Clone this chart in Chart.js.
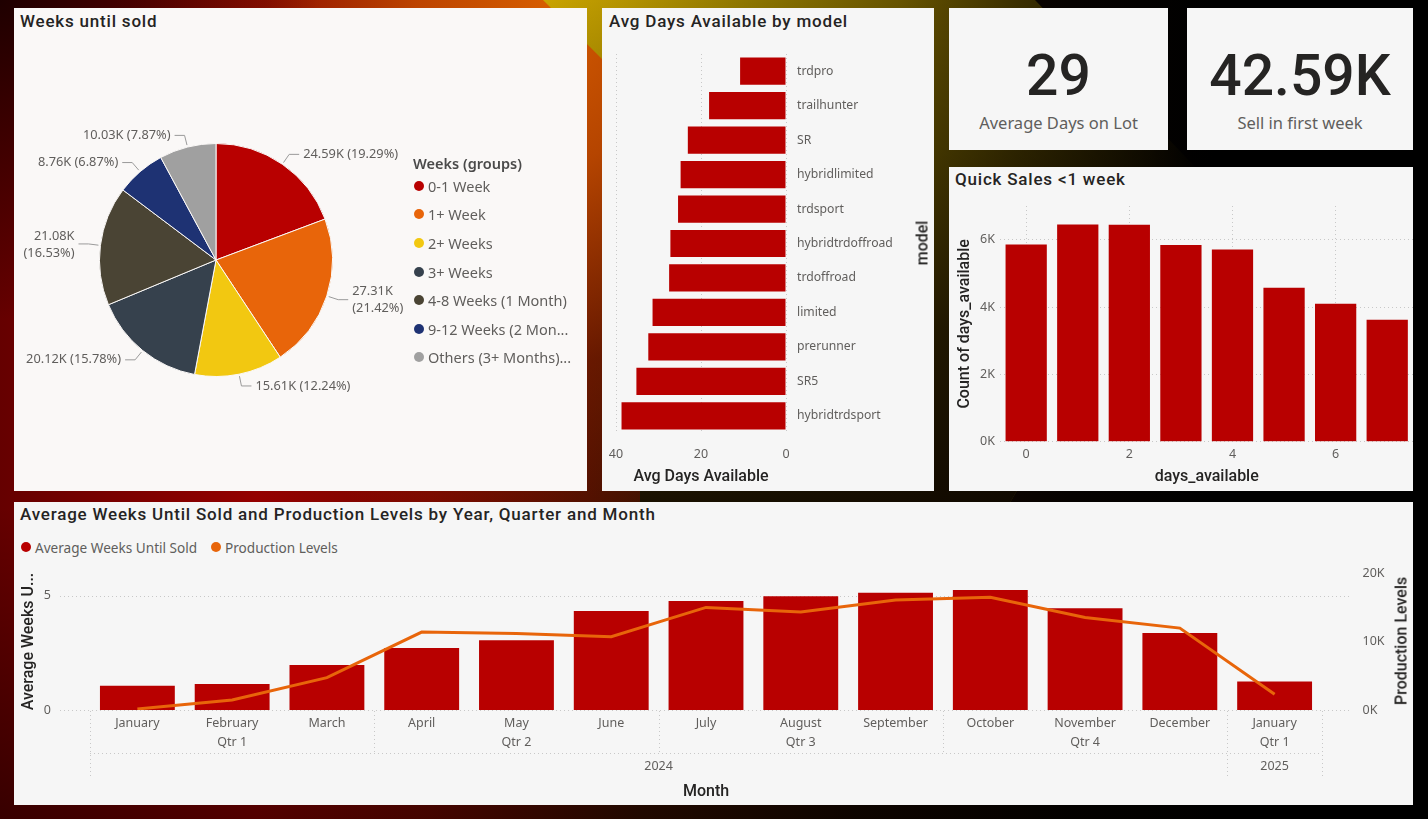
<!DOCTYPE html>
<html>
<head>
<meta charset="utf-8">
<script src="https://cdn.jsdelivr.net/npm/chart.js@4.4.1/dist/chart.umd.min.js"></script>
<style>
html,body{margin:0;padding:0;width:1428px;height:819px;overflow:hidden;background:#000;font-family:'Noto Sans',sans-serif;}
#bg{position:absolute;left:0;top:0;width:1428px;height:819px;
 background:
  linear-gradient(to bottom, rgba(0,0,0,0) 62%, rgba(0,0,0,0.45) 100%),
  radial-gradient(circle 320px at 0px 0px, rgba(25,0,0,0.92) 0%, rgba(25,0,0,0) 100%),
  radial-gradient(ellipse 430px 560px at 545px 0px, rgba(214,92,0,1) 0%, rgba(200,78,0,0.85) 30%, rgba(150,40,0,0.4) 65%, rgba(120,20,0,0) 100%),
  linear-gradient(to right, #650000 0%, #940000 18%, #7a0800 30%, #3a1000 45%, #180800 60%, #060200 75%, #000 85%);}
#gold{position:absolute;left:0;top:0;width:1428px;height:819px;
 clip-path:polygon(543px 0px,1035px 0px,1200px 172px,1000px 520px,640px 520px,640px 97px);
 background:
  linear-gradient(to bottom, rgba(0,0,0,0) 0%, rgba(0,0,0,0.25) 18%, rgba(10,4,0,0.7) 40%, rgba(12,5,0,0.92) 62%),
  linear-gradient(to right, #c9a300 543px, #b59400 620px, #8c7500 750px, #665300 900px, #3a2e00 1020px, #120d00 1150px, #000 1200px);}
.panel{position:absolute;background:#f6f6f6;}
.ptitle{position:absolute;font-family:Roboto,sans-serif;font-weight:500;font-size:17px;line-height:20px;color:#252423;letter-spacing:0.8px;white-space:nowrap;}
canvas{position:absolute;}
.kval{position:absolute;left:0;width:100%;text-align:center;font-family:Roboto,sans-serif;font-weight:500;font-size:57px;line-height:57px;color:#252423;}
.klab{position:absolute;left:0;width:100%;text-align:center;font-family:'Noto Sans',sans-serif;font-size:16.5px;line-height:20px;color:#605E5C;}
.rot{position:absolute;transform:translate(-50%,-50%) rotate(-90deg);font-family:Roboto,sans-serif;font-weight:500;font-size:16px;color:#252423;white-space:nowrap;}
.leg{position:absolute;display:flex;align-items:center;height:20px;font-family:'Noto Sans',sans-serif;color:#605E5C;white-space:nowrap;}
.dot{display:inline-block;width:10px;height:10px;border-radius:50%;margin-right:4px;}
</style>
</head>
<body>
<div id="bg"></div>
<div id="gold"></div>

<div class="panel" style="left:14px;top:8px;width:573px;height:483px;background:#faf8f7;">
  <div class="ptitle" style="left:6px;top:3px;">Weeks until sold</div>
</div>
<div class="panel" style="left:602px;top:8px;width:332px;height:483px;">
  <div class="ptitle" style="left:7px;top:3px;">Avg Days Available by model</div>
</div>
<div class="panel" style="left:949px;top:8px;width:219px;height:142px;" id="kpi1"></div>
<div class="panel" style="left:1187px;top:8px;width:226px;height:142px;" id="kpi2"></div>
<div class="panel" style="left:949px;top:167px;width:464px;height:324px;">
  <div class="ptitle" style="left:6px;top:2px;">Quick Sales &lt;1 week</div>
</div>
<div class="panel" style="left:14px;top:502px;width:1399px;height:303px;">
  <div class="ptitle" style="left:6px;top:2px;">Average Weeks Until Sold and Production Levels by Year, Quarter and Month</div>
</div>

<canvas id="pie" width="573" height="483" style="left:14px;top:8px;"></canvas>
<div id="pieLegend"></div>
<canvas id="avg" width="332" height="461" style="left:602px;top:30px;"></canvas>
<div class="rot" style="left:922px;top:243px;">model</div>
<canvas id="quick" width="464" height="301" style="left:949px;top:190px;"></canvas>
<canvas id="combo" width="1399" height="245" style="left:14px;top:560px;"></canvas>
<div class="rot" style="left:1401px;top:641px;">Production Levels</div>
<div id="comboLegend"></div>

<script>
// ---------------- DATA ----------------
const weekGroups = ['0-1 Week','1+ Week','2+ Weeks','3+ Weeks','4-8 Weeks (1 Month)','9-12 Weeks (2 Mon...','Others (3+ Months)...'];
const weekGroupCounts = [24.59, 27.31, 15.61, 20.12, 21.08, 8.76, 10.03]; // thousands
const weekGroupColors = ['#B80000','#E8650A','#F2C811','#36414D','#4A4434','#1E3273','#A0A0A0'];

const models = ['trdpro','trailhunter','SR','hybridlimited','trdsport','hybridtrdoffroad','trdoffroad','limited','prerunner','SR5','hybridtrdsport'];
const modelAvgDays = [10.8, 18.1, 23.1, 24.8, 25.4, 27.2, 27.5, 31.4, 32.4, 35.2, 38.7];

const kpiAvgDays = '29';
const kpiFirstWeek = '42.59K';

const daysAvailable = ['0','1','2','3','4','5','6','7'];
const daysCount = [5860, 6450, 6440, 5840, 5710, 4570, 4100, 3620];

const months = ['January','February','March','April','May','June','July','August','September','October','November','December','January'];
const quarters = ['Qtr 1','Qtr 1','Qtr 1','Qtr 2','Qtr 2','Qtr 2','Qtr 3','Qtr 3','Qtr 3','Qtr 4','Qtr 4','Qtr 4','Qtr 1'];
const years = ['2024','2024','2024','2024','2024','2024','2024','2024','2024','2024','2024','2024','2025'];
const avgWeeksUntilSold = [1.06, 1.14, 1.97, 2.71, 3.05, 4.34, 4.77, 4.98, 5.13, 5.26, 4.46, 3.37, 1.25];
const productionLevels = [150, 1460, 4730, 11370, 11170, 10690, 14980, 14300, 16060, 16450, 13510, 11960, 2300];

const RED = '#B80000', ORANGE = '#E8650A';
const GRAY = '#605E5C', DARK = '#252423', GRID = '#c8c8c8';

Chart.defaults.font.family = "'Noto Sans', sans-serif";
Chart.defaults.color = GRAY;
Chart.defaults.animation = false;

// zero the automatic label overhang padding so the plot areas sit exactly where set
function noPad(s){ s.paddingTop = 0; s.paddingBottom = 0; s.paddingLeft = 0; s.paddingRight = 0; }

// ---------------- KPI cards ----------------
function kpi(id, val, lab){
  const el = document.getElementById(id);
  el.innerHTML = '<div class="kval" style="top:39px;">'+val+'</div><div class="klab" style="top:105px;">'+lab+'</div>';
}
kpi('kpi1', kpiAvgDays, 'Average Days on Lot');
kpi('kpi2', kpiFirstWeek, 'Sell in first week');

// ---------------- Pie legend ----------------
(function(){
  const lg = document.getElementById('pieLegend');
  let html = '<div class="leg" style="left:413px;top:153px;font-weight:600;font-size:14.5px;color:#4a4a4a;">Weeks (groups)</div>';
  weekGroups.forEach((g,i)=>{
    const cy = 185.7 + i*28.6;
    html += '<div class="leg" style="left:414px;top:'+(cy-10)+'px;font-size:14.5px;"><span class="dot" style="background:'+weekGroupColors[i]+'"></span>'+g+'</div>';
  });
  lg.innerHTML = html;
})();

// ---------------- Combo legend ----------------
document.getElementById('comboLegend').innerHTML =
  '<div class="leg" style="left:21px;top:537px;font-size:13.6px;"><span class="dot" style="background:'+RED+'"></span>Average Weeks Until Sold</div>' +
  '<div class="leg" style="left:211px;top:537px;font-size:13.6px;"><span class="dot" style="background:'+ORANGE+'"></span>Production Levels</div>';

// ---------------- Pie ----------------
const pieLabels = {
  id: 'pieLabels',
  afterDraw(chart){
    const ctx = chart.ctx;
    const meta = chart.getDatasetMeta(0);
    const data = chart.data.datasets[0].data;
    const total = data.reduce((a,b)=>a+b,0);
    ctx.save();
    ctx.font = "12.8px 'Noto Sans'";
    ctx.fillStyle = GRAY;
    ctx.strokeStyle = '#9a9a9a';
    ctx.lineWidth = 1;
    ctx.textBaseline = 'middle';
    meta.data.forEach((arc,i)=>{
      const p = arc.getProps(['x','y','startAngle','endAngle','outerRadius'], true);
      const a = (p.startAngle + p.endAngle)/2;
      const c = Math.cos(a), s = Math.sin(a);
      const r = p.outerRadius;
      const x0 = p.x + c*(r+2), y0 = p.y + s*(r+2);
      const x1 = p.x + c*(r+12), y1 = p.y + s*(r+12);
      const right = c >= 0;
      const x2 = x1 + (right ? 10 : -10);
      ctx.beginPath(); ctx.moveTo(x0,y0); ctx.lineTo(x1,y1); ctx.lineTo(x2,y1); ctx.stroke();
      const v = data[i].toFixed(2)+'K';
      const pc = '('+(data[i]/total*100).toFixed(2)+'%)';
      ctx.textAlign = right ? 'left' : 'right';
      const tx = x2 + (right ? 4 : -4);
      if (Math.abs(s) < 0.45){
        ctx.fillText(v, tx, y1-8);
        ctx.fillText(pc, tx, y1+9);
      } else {
        ctx.fillText(v+' '+pc, tx, y1);
      }
    });
    ctx.restore();
  }
};
new Chart(document.getElementById('pie'), {
  type:'pie',
  data:{labels:weekGroups, datasets:[{data:weekGroupCounts, backgroundColor:weekGroupColors, borderColor:'#faf8f7', borderWidth:1}]},
  options:{responsive:false, maintainAspectRatio:false,
    layout:{padding:{left:85,right:254,top:135,bottom:114}},
    plugins:{legend:{display:false}, tooltip:{enabled:false}}},
  plugins:[pieLabels]
});

// ---------------- Avg days by model ----------------
new Chart(document.getElementById('avg'), {
  type:'bar',
  data:{labels:models, datasets:[{data:modelAvgDays, backgroundColor:RED, barPercentage:0.79, categoryPercentage:1}]},
  options:{responsive:false, maintainAspectRatio:false, indexAxis:'y',
    layout:{padding:{left:14,top:24,right:0,bottom:0}},
    plugins:{legend:{display:false}, tooltip:{enabled:false}},
    scales:{
      x:{type:'linear', reverse:true, min:0, max:40,
        ticks:{stepSize:20, padding:14, color:GRAY, font:{size:12.5}, autoSkip:false},
        grid:{color:GRID, drawTicks:false}, border:{display:false, dash:[1,3]},
        title:{display:true, text:'Avg Days Available', color:DARK, font:{family:'Roboto', size:16, weight:'500'}, padding:{top:0,bottom:4}},
        afterFit(s){ s.height = 58; noPad(s); }},
      y:{position:'right',
        ticks:{padding:11, color:GRAY, font:{size:12.2}, autoSkip:false},
        grid:{display:false, drawTicks:false}, border:{display:false},
        afterFit(s){ s.width = 148; noPad(s); }}
    }}
});

// ---------------- Quick sales ----------------
new Chart(document.getElementById('quick'), {
  type:'bar',
  data:{labels:daysAvailable, datasets:[{data:daysCount, backgroundColor:RED, barPercentage:0.8, categoryPercentage:1}]},
  options:{responsive:false, maintainAspectRatio:false,
    layout:{padding:{left:0,top:16,right:0,bottom:0}},
    plugins:{legend:{display:false}, tooltip:{enabled:false}},
    scales:{
      x:{type:'category',
        ticks:{autoSkip:false, maxRotation:0, padding:5.5, color:GRAY, font:{size:12.5},
          callback(v,i){ return i%2===0 ? this.getLabelForValue(v) : ''; }},
        grid:{offset:false, drawTicks:false, color:(c)=> (c.index%2===0 ? GRID : 'rgba(0,0,0,0)')},
        border:{display:false, dash:[1,3]},
        title:{display:true, text:'days_available', color:DARK, font:{family:'Roboto', size:16, weight:'500'}, padding:{top:0,bottom:4}},
        afterFit(s){ s.height = 49.3; noPad(s); }},
      y:{min:0, max:7000,
        ticks:{stepSize:1000, autoSkip:false, padding:5.4, color:GRAY, font:{size:12.5}, callback:(v)=> (v/1000)+'K'},
        afterBuildTicks(s){ s.ticks = s.ticks.filter(t=> Math.round(t.value) % 2000 === 0); },
        grid:{color:GRID, drawTicks:false}, border:{display:false, dash:[1,3]},
        title:{display:true, text:'Count of days_available', color:DARK, font:{family:'Roboto', size:16, weight:'500'}, padding:{top:6.5,bottom:0}},
        afterFit(s){ s.width = 51.4; noPad(s); }}
    }}
});

// ---------------- Combo ----------------
const comboExtras = {
  id:'comboExtras',
  beforeDatasetsDraw(chart){
    const ctx = chart.ctx, ca = chart.chartArea, ys = chart.scales.y;
    ctx.save();
    ctx.strokeStyle = GRID; ctx.lineWidth = 1; ctx.setLineDash([1,3]);
    ys.ticks.forEach(t=>{
      const y = Math.round(ys.getPixelForValue(t.value)) + 0.5;
      ctx.beginPath(); ctx.moveTo(ca.left-30, y); ctx.lineTo(ca.right+30, y); ctx.stroke();
    });
    ctx.restore();
  },
  afterDraw(chart){
    const ctx = chart.ctx, ca = chart.chartArea, xs = chart.scales.x;
    const n = months.length;
    const band = (ca.right - ca.left)/n;
    const px = i => xs.getPixelForValue(i);
    ctx.save();
    ctx.font = "12.5px 'Noto Sans'"; ctx.fillStyle = GRAY;
    ctx.textAlign = 'center'; ctx.textBaseline = 'middle';
    const qGroups = [], yGroups = [];
    for (let i=0;i<n;i++){
      const qk = years[i]+'|'+quarters[i];
      if (!qGroups.length || qGroups[qGroups.length-1].k !== qk) qGroups.push({k:qk, s:i, e:i, t:quarters[i]}); else qGroups[qGroups.length-1].e = i;
      if (!yGroups.length || yGroups[yGroups.length-1].k !== years[i]) yGroups.push({k:years[i], s:i, e:i, t:years[i]}); else yGroups[yGroups.length-1].e = i;
    }
    const yQ = ca.bottom + 32.3, yY = ca.bottom + 56.7;
    qGroups.forEach(g=> ctx.fillText(g.t, (px(g.s)+px(g.e))/2, yQ));
    yGroups.forEach(g=> ctx.fillText(g.t, (px(g.s)+px(g.e))/2, yY));
    ctx.strokeStyle = GRID; ctx.lineWidth = 1; ctx.setLineDash([1,3]);
    const line = (x1,y1,x2,y2)=>{ ctx.beginPath(); ctx.moveTo(x1,y1); ctx.lineTo(x2,y2); ctx.stroke(); };
    const yTop = ca.bottom + 1, yMid = ca.bottom + 43, yBot = ca.bottom + 68;
    line(ca.left, yMid+0.5, ca.right, yMid+0.5);
    const yearStarts = new Set(yGroups.map(g=>g.s));
    qGroups.forEach(g=>{
      const x = Math.round(px(g.s) - band/2) + 0.5;
      line(x, yTop, x, yearStarts.has(g.s) ? yBot : yMid);
    });
    const xr = Math.round(ca.right) + 0.5;
    line(xr, yTop, xr, yBot);
    ctx.restore();
  }
};
new Chart(document.getElementById('combo'), {
  type:'bar',
  data:{labels:months, datasets:[
    {type:'line', label:'Production Levels', data:productionLevels, yAxisID:'y1', borderColor:ORANGE, borderWidth:3, pointRadius:0, tension:0, order:1},
    {type:'bar', label:'Average Weeks Until Sold', data:avgWeeksUntilSold, yAxisID:'y', backgroundColor:RED, barPercentage:0.79, categoryPercentage:1, order:2}
  ]},
  options:{responsive:false, maintainAspectRatio:false,
    layout:{padding:{left:0,top:13,right:0,bottom:0}},
    plugins:{legend:{display:false}, tooltip:{enabled:false}},
    scales:{
      x:{type:'category',
        ticks:{autoSkip:false, maxRotation:0, padding:6.2, color:GRAY, font:{size:12.5}},
        grid:{display:false, drawTicks:false}, border:{display:false},
        title:{display:true, text:'Month', color:DARK, font:{family:'Roboto', size:16, weight:'500'}, padding:{top:0,bottom:3.7}},
        afterFit(s){ s.height = 95; noPad(s); }},
      y:{position:'left', min:0, max:6,
        ticks:{stepSize:1, autoSkip:false, padding:39, color:GRAY, font:{size:12.5}},
        afterBuildTicks(s){ s.ticks = s.ticks.filter(t=> Math.round(t.value) % 5 === 0); },
        grid:{display:false, drawTicks:false}, border:{display:false},
        title:{display:true, text:'Average Weeks U...', color:DARK, font:{family:'Roboto', size:16, weight:'500'}, padding:{top:5,bottom:0}},
        afterFit(s){ s.width = 76; noPad(s); }},
      y1:{position:'right', min:0, max:20000,
        ticks:{stepSize:10000, autoSkip:false, padding:40.5, color:GRAY, font:{size:12.5}, callback:(v)=> (v/1000)+'K'},
        grid:{display:false, drawTicks:false}, border:{display:false},
        afterFit(s){ s.width = 91; noPad(s); }}
    }},
  plugins:[comboExtras]
});
</script>
</body>
</html>
